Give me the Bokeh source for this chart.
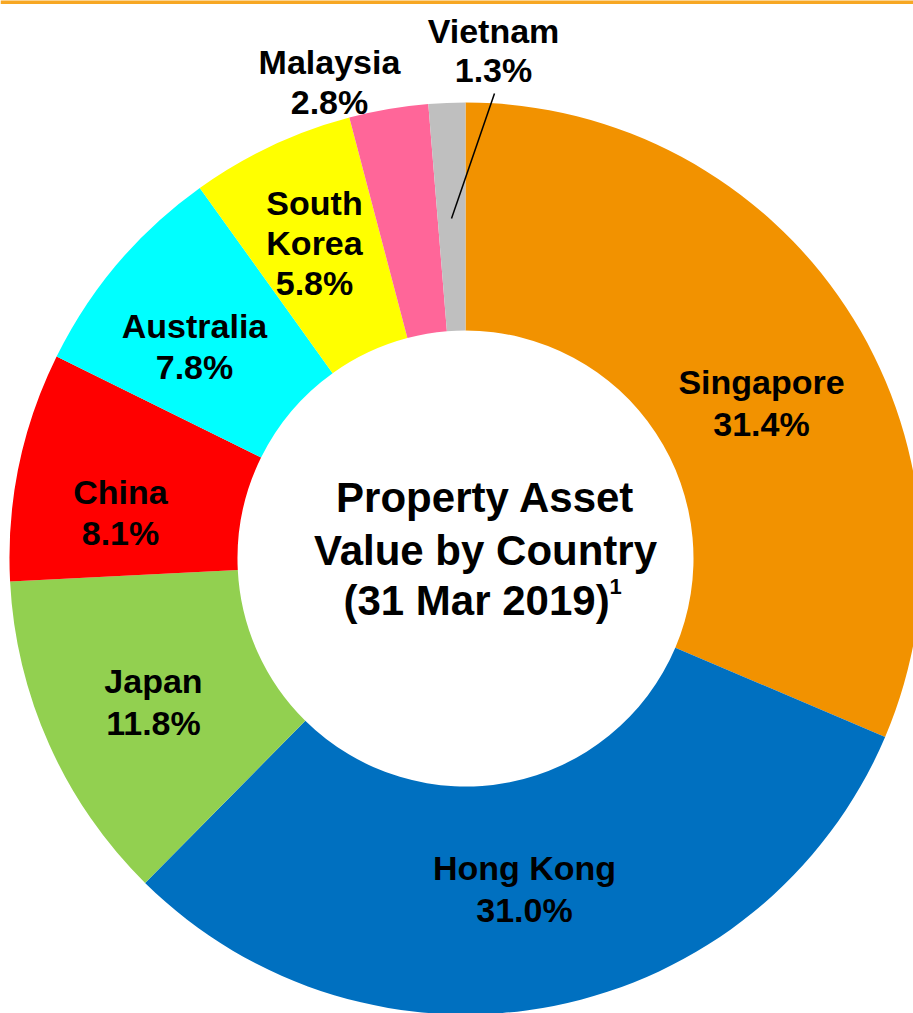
import math
from bokeh.plotting import figure
from bokeh.models import Range1d, ColumnDataSource
from bokeh.core.properties import value
from bokeh.embed import file_html
from bokeh.resources import INLINE

# ---------------- data ----------------
countries = ["Singapore", "Hong Kong", "Japan", "China", "Australia",
             "South Korea", "Malaysia", "Vietnam"]
shares = [31.4, 31.0, 11.8, 8.1, 7.8, 5.8, 2.8, 1.3]
colors = ["#F29200", "#0070C0", "#92D050", "#FF0000", "#00FFFF",
          "#FFFF00", "#FF6699", "#BFBFBF"]
label_names = ["Singapore", "Hong Kong", "Japan", "China", "Australia",
               "South\nKorea", "Malaysia", "Vietnam"]
title_lines = ["Property Asset", "Value by Country", "(31 Mar 2019)"]
title_note = "1"

# ---------------- layout (pixels) ----------------
W, H = 913, 1013
CX, CY = 465, 558
R_OUT, R_IN = 456, 228
FONT = "Liberation Sans"
TXT_SHIFT = 12  # compensate renderer baseline offset


def Y(py):
    return H - py


def YT(py):
    return H - (py - TXT_SHIFT)


# label line x-centres and baselines (pixel coordinates)
label_x = [761, 524, 153, 120, 194, 314, 329, 493]
label_baselines = [[393, 435], [879, 921], [692, 734], [503, 544],
                   [337, 378], [214, 254, 294], [73, 113], [42, 81]]

# ---------------- figure ----------------
p = figure(width=W, height=H, output_backend="svg", toolbar_location=None,
           x_range=Range1d(0, W), y_range=Range1d(0, H),
           x_axis_type=None, y_axis_type=None, min_border=0,
           margin=(0, 0, 0, 0))
p.outline_line_color = None
p.grid.visible = False
p.background_fill_color = "white"
p.border_fill_color = "white"

# top orange rule
p.quad(left=[0], right=[W], top=[Y(-1)], bottom=[Y(3.5)],
       fill_color="#F7A723", line_color=None)

# donut wedges: start at 12 o'clock, clockwise
total = sum(shares)
starts, ends = [], []
cum = 0.0
for s in shares:
    a0 = math.pi / 2 - 2 * math.pi * (cum + s) / total
    a1 = math.pi / 2 - 2 * math.pi * cum / total
    starts.append(a0)
    ends.append(a1)
    cum += s

src = ColumnDataSource(dict(x=[CX] * len(shares), y=[Y(CY)] * len(shares),
                            start=starts, end=ends, color=colors,
                            country=countries, share=shares))
p.annular_wedge(x="x", y="y", inner_radius=R_IN, outer_radius=R_OUT,
                start_angle="start", end_angle="end", fill_color="color",
                line_color=None, source=src)

# leader line for Vietnam
p.segment(x0=[494], y0=[Y(93)], x1=[451], y1=[Y(218)],
          line_color="black", line_width=1.5)

# labels, one line at a time
tx, ty, tt = [], [], []
for name, share, lx, bls in zip(label_names, shares, label_x, label_baselines):
    lines = name.split("\n") + [f"{share:.1f}%"]
    for line, bl in zip(lines, bls):
        tx.append(lx)
        ty.append(YT(bl))
        tt.append(line)
p.text(x=tx, y=ty, text=tt, text_font=value(FONT), text_font_style="bold",
       text_font_size="34px", text_align="center",
       text_baseline="alphabetic", text_color="black")

# centre title
p.text(x=[485, 485], y=[YT(509), YT(562)], text=title_lines[:2],
       text_font=value(FONT), text_font_style="bold", text_font_size="42px",
       text_align="center", text_baseline="alphabetic", text_color="black")
p.text(x=[343], y=[YT(612)], text=[title_lines[2]],
       text_font=value(FONT), text_font_style="bold", text_font_size="42px",
       text_align="left", text_baseline="alphabetic", text_color="black")
p.text(x=[609], y=[YT(598)], text=[title_note],
       text_font=value(FONT), text_font_style="bold", text_font_size="22px",
       text_align="left", text_baseline="alphabetic", text_color="black")

open("out.html", "w").write(file_html(p, INLINE))
